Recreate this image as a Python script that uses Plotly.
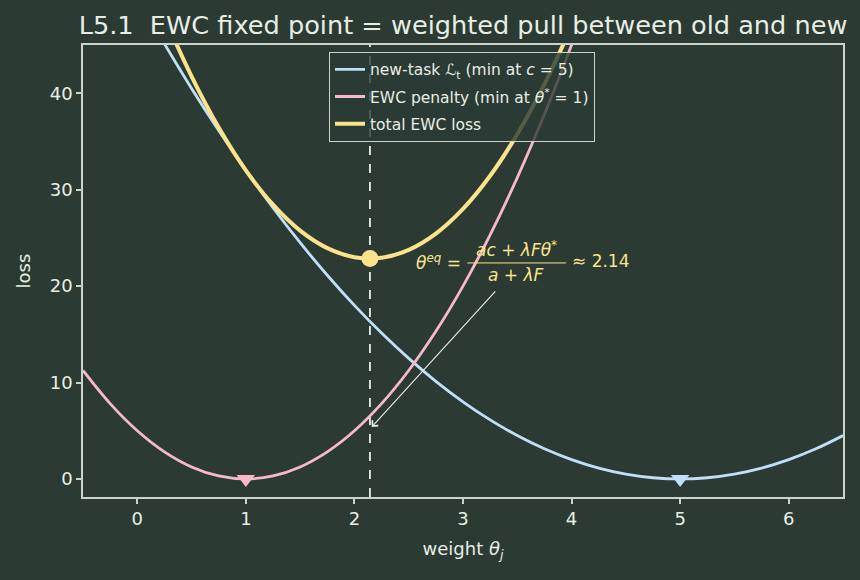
import plotly.graph_objects as go

# ---- data ----
theta = [-0.5, -0.25, 0, 0.25, 0.5, 0.75, 1, 1.25, 1.5, 1.75, 2, 2.25, 2.5, 2.75, 3,
         3.25, 3.5, 3.75, 4, 4.25, 4.5, 4.75, 5, 5.25, 5.5, 5.75, 6, 6.25, 6.5]
new_task = [60.5, 55.125, 50, 45.125, 40.5, 36.125, 32, 28.125, 24.5, 21.125, 18, 15.125,
            12.5, 10.125, 8, 6.125, 4.5, 3.125, 2, 1.125, 0.5, 0.125, 0, 0.125, 0.5, 1.125,
            2, 3.125, 4.5]
penalty = [11.25, 7.8125, 5, 2.8125, 1.25, 0.3125, 0, 0.3125, 1.25, 2.8125, 5, 7.8125,
           11.25, 15.3125, 20, 25.3125, 31.25, 37.8125, 45, 52.8125, 61.25, 70.3125, 80,
           90.3125, 101.25, 112.8125, 125, 138.3125, 151.25]
total = [71.75, 62.9375, 55, 47.9375, 41.75, 36.4375, 32, 28.4375, 25.75, 23.9375, 23,
         22.9375, 23.75, 25.4375, 28, 31.4375, 35.75, 40.9375, 47, 53.9375, 61.75, 70.4375,
         80, 90.4375, 101.75, 113.9375, 127, 141.1875, 155.75]
theta_eq = 2.1429
total_eq = 22.86
min_new = (5, 0)
min_old = (1, 0)
x_ticks = [0, 1, 2, 3, 4, 5, 6]
y_ticks = [0, 10, 20, 30, 40]

BG = "#2b3b34"
FG = "#e8eee4"
SPINE = "#c8d5c8"
BLUE = "#bfe0f8"
PINK = "#f8b8c8"
YELLOW = "#fde28c"
FONT = "DejaVu Sans"

fig = go.Figure()
fig.add_trace(go.Scatter(x=theta, y=new_task, mode="lines", line=dict(color=BLUE, width=2.8, shape="spline"),
                         name="new-task ℒ<sub>t</sub> (min at <i>c</i> = 5)", legendgroup="a"))
fig.add_trace(go.Scatter(x=theta, y=penalty, mode="lines", line=dict(color=PINK, width=2.8, shape="spline"),
                         name="EWC penalty (min at <i>θ</i><sup>*</sup> = 1)", legendgroup="b"))
fig.add_trace(go.Scatter(x=theta, y=total, mode="lines", line=dict(color=YELLOW, width=4, shape="spline"),
                         name="total EWC loss", legendgroup="c"))
fig.add_trace(go.Scatter(x=[theta_eq], y=[total_eq], mode="markers", showlegend=False,
                         marker=dict(color=YELLOW, size=17, line=dict(width=0))))
fig.add_trace(go.Scatter(x=[min_old[0]], y=[min_old[1]], mode="markers", showlegend=False,
                         marker=dict(color=PINK, size=16, symbol="triangle-down", line=dict(width=0))))
fig.add_trace(go.Scatter(x=[min_new[0]], y=[min_new[1]], mode="markers", showlegend=False,
                         marker=dict(color=BLUE, size=16, symbol="triangle-down", line=dict(width=0))))

fig.add_shape(type="line", xref="x", yref="paper", x0=theta_eq, x1=theta_eq, y0=0, y1=1,
              line=dict(color=FG, width=1.8, dash="dash"), layer="below")

# equation annotation (fraction built from parts)
ann_font = dict(family=FONT, size=17, color=YELLOW)
fig.add_annotation(x=3.0, y=22.5, text="<i>θ</i><sup><i>eq</i></sup> =", showarrow=False,
                   xanchor="right", yanchor="middle", font=ann_font)
fig.add_annotation(x=3.49, y=23.8, text="<i>ac</i> + <i>λFθ</i><sup>*</sup>", showarrow=False,
                   xanchor="center", yanchor="middle", font=ann_font)
fig.add_annotation(x=3.49, y=21.2, text="<i>a</i> + <i>λF</i>", showarrow=False,
                   xanchor="center", yanchor="middle", font=ann_font)
fig.add_shape(type="line", xref="x", yref="y", x0=3.04, x1=3.95, y0=22.4, y1=22.4,
              line=dict(color=YELLOW, width=1))
fig.add_annotation(x=3.99, y=22.6, text="≈ 2.14", showarrow=False,
                   xanchor="left", yanchor="middle", font=ann_font)
fig.add_annotation(x=2.16, y=5.4, ax=3.31, ay=19.6, axref="x", ayref="y", xref="x", yref="y",
                   text="", showarrow=True, arrowhead=4, arrowsize=1.4, arrowwidth=1.1,
                   arrowcolor=FG)

fig.update_layout(
    width=860, height=580,
    paper_bgcolor=BG, plot_bgcolor=BG,
    margin=dict(l=83, r=17, t=45, b=83),
    font=dict(family=FONT, color=FG, size=17),
    title=dict(text="L5.1\u00a0 EWC fixed point = weighted pull between old and new",
               x=0.5, xref="paper", xanchor="center", y=0.957, yanchor="middle",
               font=dict(size=25.6, color=FG, family=FONT)),
    legend=dict(x=0.4987, y=0.985, xanchor="center", yanchor="top",
                bgcolor="rgba(43,59,52,0.8)", bordercolor=SPINE, borderwidth=1,
                font=dict(size=15.5, color=FG, family=FONT), tracegroupgap=4,
                itemwidth=30),
    showlegend=True,
)
fig.update_xaxes(range=[-0.5, 6.5], tickvals=x_ticks, ticks="outside", ticklen=5, tickwidth=1.5,
                 tickcolor=SPINE, showline=True, linecolor=SPINE, linewidth=1.5, mirror=True,
                 showgrid=False, zeroline=False, title=dict(text="weight <i>θ<sub>j</sub></i>", standoff=14,
                                                             font=dict(size=18)),
                 tickfont=dict(size=18))
fig.update_yaxes(range=[-1.87, 45], tickvals=y_ticks, ticks="outside", ticklen=5, tickwidth=1.5,
                 tickcolor=SPINE, showline=True, linecolor=SPINE, linewidth=1.5, mirror=True,
                 showgrid=False, zeroline=False, title=dict(text="loss", standoff=14, font=dict(size=18)),
                 tickfont=dict(size=18))

fig.write_html("out.html")
